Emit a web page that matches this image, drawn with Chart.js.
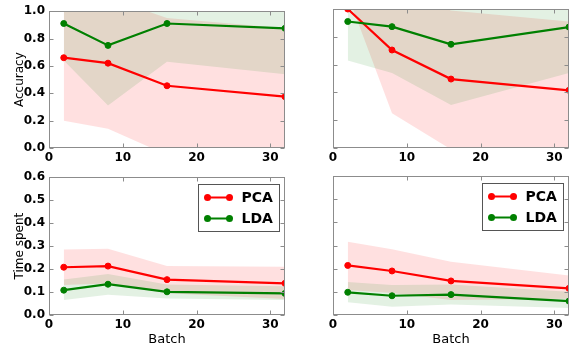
<!DOCTYPE html>
<html>
<head>
<meta charset="utf-8">
<script src="https://cdn.jsdelivr.net/npm/chart.js@4.4.1/dist/chart.umd.min.js"></script>
<style>
  body { margin: 0; background: #fff; }
  #wrap { position: relative; width: 574px; height: 349px; }
  canvas { position: absolute; }
</style>
</head>
<body>
<div id="wrap">
  <canvas id="accLeft" width="290" height="166" style="left:0;top:0;width:290px;height:166px"></canvas>
  <canvas id="accRight" width="284" height="166" style="left:290px;top:0;width:284px;height:166px"></canvas>
  <canvas id="timeLeft" width="290" height="183" style="left:0;top:166px;width:290px;height:183px"></canvas>
  <canvas id="timeRight" width="284" height="183" style="left:290px;top:166px;width:284px;height:183px"></canvas>
</div>
<script>
const batches = [2, 8, 16, 32];
const xTicks = [0, 10, 20, 30];
const seriesNames = ['PCA', 'LDA'];

// accuracy, left panel
const accPcaL = [0.66, 0.62, 0.455, 0.375];
const accPcaLLow = [0.20, 0.14, -0.05, -0.12];
const accPcaLHigh = [1.12, 1.10, 0.95, 0.875];
const accLdaL = [0.91, 0.75, 0.91, 0.875];
const accLdaLLow = [0.64, 0.31, 0.63, 0.54];
const accLdaLHigh = [1.18, 1.19, 1.19, 1.21];

// accuracy, right panel
const accPcaR = [1.0, 0.705, 0.496, 0.415];
const accPcaRLow = [1.10, 0.25, -0.01, -0.08];
const accPcaRHigh = [1.12, 1.16, 0.99, 0.91];
const accLdaR = [0.91, 0.873, 0.746, 0.87];
const accLdaRLow = [0.63, 0.54, 0.31, 0.54];
const accLdaRHigh = [1.19, 1.20, 1.18, 1.20];

// time spent, left panel
const timePcaL = [0.208, 0.213, 0.154, 0.138];
const timePcaLLow = [0.131, 0.137, 0.095, 0.07];
const timePcaLHigh = [0.285, 0.288, 0.213, 0.21];
const timeLdaL = [0.108, 0.134, 0.101, 0.094];
const timeLdaLLow = [0.065, 0.088, 0.072, 0.065];
const timeLdaLHigh = [0.155, 0.178, 0.133, 0.125];

// time spent, right panel
const timePcaR = [0.214, 0.19, 0.147, 0.115];
const timePcaRLow = [0.108, 0.095, 0.065, 0.07];
const timePcaRHigh = [0.316, 0.284, 0.23, 0.17];
const timeLdaR = [0.098, 0.083, 0.088, 0.06];
const timeLdaRLow = [0.055, 0.036, 0.045, 0.03];
const timeLdaRHigh = [0.142, 0.13, 0.132, 0.10];

Chart.defaults.font.family = "'DejaVu Sans', sans-serif";
Chart.defaults.color = '#000';

const RED = '#ff0000';
const GREEN = '#008000';
const FRAME = '#8c8c8c';

const pts = (ys) => batches.map((b, i) => ({ x: b, y: ys[i] }));

// frame + inward tick marks on all four sides
const frameTicks = {
  id: 'frameTicks',
  afterDatasetsDraw(chart) {
    const { ctx, chartArea: a, scales } = chart;
    const l = Math.round(a.left) + 0.5, r = Math.round(a.right) - 0.5;
    const t = Math.round(a.top) + 0.5, b = Math.round(a.bottom) - 0.5;
    ctx.save();
    ctx.strokeStyle = FRAME;
    ctx.lineWidth = 1;
    ctx.beginPath();
    xTicks.forEach(v => {
      const px = Math.round(scales.x.getPixelForValue(v)) + 0.5;
      ctx.moveTo(px, b); ctx.lineTo(px, b - 4);
      ctx.moveTo(px, t); ctx.lineTo(px, t + 4);
    });
    scales.y.ticks.forEach(tk => {
      const py = Math.round(scales.y.getPixelForValue(tk.value)) + 0.5;
      ctx.moveTo(l, py); ctx.lineTo(l + 4, py);
      ctx.moveTo(r, py); ctx.lineTo(r - 4, py);
    });
    ctx.stroke();
    ctx.strokeRect(l, t, r - l, b - t);
    ctx.restore();
  }
};

// matplotlib style legend box
const legendBox = {
  id: 'legendBox',
  afterDraw(chart, args, opts) {
    if (!opts.show) return;
    const { ctx, chartArea: a } = chart;
    const w = 81, h = 47;
    const x0 = Math.round(a.right - 6 - w) + 0.5, y0 = Math.round(a.top + 7) + 0.5;
    ctx.save();
    ctx.fillStyle = '#fff';
    ctx.fillRect(x0, y0, w, h);
    ctx.strokeStyle = '#555';
    ctx.lineWidth = 1;
    ctx.strokeRect(x0, y0, w, h);
    [RED, GREEN].forEach((c, i) => {
      const y = y0 + 13 + i * 21;
      ctx.strokeStyle = c;
      ctx.fillStyle = c;
      ctx.lineWidth = 2;
      ctx.beginPath();
      ctx.moveTo(x0 + 9, y); ctx.lineTo(x0 + 31, y);
      ctx.stroke();
      [x0 + 9, x0 + 31].forEach(px => {
        ctx.beginPath();
        ctx.arc(px, y, 3.5, 0, Math.PI * 2);
        ctx.fill();
      });
      ctx.fillStyle = '#000';
      ctx.font = "bold 14px 'DejaVu Sans'";
      ctx.textBaseline = 'middle';
      ctx.fillText(seriesNames[i], x0 + 43, y + 1);
    });
    ctx.restore();
  }
};

function bandSets(low, high, fillColor, order) {
  return [
    { data: pts(high), borderColor: 'transparent', borderWidth: 0, pointRadius: 0, fill: false, order },
    { data: pts(low), borderColor: 'transparent', borderWidth: 0, pointRadius: 0, fill: '-1', backgroundColor: fillColor, order }
  ];
}

function meanSet(ys, color, order) {
  return {
    data: pts(ys), borderColor: color, backgroundColor: color, borderWidth: 2.2,
    pointRadius: 3, pointBorderWidth: 1, pointBackgroundColor: color, pointBorderColor: color,
    fill: false, tension: 0, order
  };
}

function makePanel(id, cfg) {
  new Chart(document.getElementById(id), {
    type: 'line',
    data: {
      datasets: [
        ...bandSets(cfg.pcaLow, cfg.pcaHigh, 'rgba(255, 0, 0, 0.12)', 6),
        ...bandSets(cfg.ldaLow, cfg.ldaHigh, 'rgba(0, 128, 0, 0.11)', 5),
        meanSet(cfg.pca, RED, 2),
        meanSet(cfg.lda, GREEN, 1)
      ]
    },
    options: {
      responsive: false,
      animation: false,
      events: [],
      layout: { padding: { left: 0, top: cfg.top, right: cfg.right, bottom: 0 } },
      scales: {
        x: {
          type: 'linear', min: 0, max: 32,
          grid: { display: false, drawTicks: false },
          border: { display: false },
          ticks: {
            stepSize: 10, includeBounds: false, padding: 3, maxRotation: 0,
            font: { size: 12, weight: 'bold' }, color: '#000'
          },
          title: {
            display: !!cfg.xTitle, text: cfg.xTitle || '',
            font: { size: 13 }, color: '#000', padding: { top: 0, bottom: 2 }
          },
          afterFit: (s) => { s.height = cfg.xHeight; }
        },
        y: {
          min: 0, max: cfg.yMax,
          grid: { display: false, drawTicks: false },
          border: { display: false },
          ticks: {
            display: cfg.yLabels, stepSize: cfg.yStep, includeBounds: false, padding: 4,
            font: { size: 12, weight: 'bold' }, color: '#000',
            callback: (v) => v.toFixed(1)
          },
          title: {
            display: !!cfg.yTitle, text: cfg.yTitle || '',
            font: { size: 12 }, color: '#000', padding: { top: 13, bottom: 0 }
          },
          afterFit: (s) => { s.width = cfg.yWidth; }
        }
      },
      plugins: {
        legend: { display: false },
        tooltip: { enabled: false },
        legendBox: { show: !!cfg.legend }
      }
    },
    plugins: [frameTicks, legendBox]
  });
}

makePanel('accLeft', {
  pca: accPcaL, pcaLow: accPcaLLow, pcaHigh: accPcaLHigh,
  lda: accLdaL, ldaLow: accLdaLLow, ldaHigh: accLdaLHigh,
  yMax: 1.0, yStep: 0.2, yLabels: true, yTitle: 'Accuracy',
  top: 9, right: 5, yWidth: 49, xHeight: 18
});
makePanel('accRight', {
  pca: accPcaR, pcaLow: accPcaRLow, pcaHigh: accPcaRHigh,
  lda: accLdaR, ldaLow: accLdaRLow, ldaHigh: accLdaRHigh,
  yMax: 1.0, yStep: 0.2, yLabels: false,
  top: 9, right: 4, yWidth: 43, xHeight: 18
});
makePanel('timeLeft', {
  pca: timePcaL, pcaLow: timePcaLLow, pcaHigh: timePcaLHigh,
  lda: timeLdaL, ldaLow: timeLdaLLow, ldaHigh: timeLdaLHigh,
  yMax: 0.6, yStep: 0.1, yLabels: true, yTitle: 'Time spent', xTitle: 'Batch', legend: true,
  top: 10, right: 5, yWidth: 49, xHeight: 34
});
makePanel('timeRight', {
  pca: timePcaR, pcaLow: timePcaRLow, pcaHigh: timePcaRHigh,
  lda: timeLdaR, ldaLow: timeLdaRLow, ldaHigh: timeLdaRHigh,
  yMax: 0.6, yStep: 0.1, yLabels: false, xTitle: 'Batch', legend: true,
  top: 10, right: 4, yWidth: 43, xHeight: 34
});
</script>
</body>
</html>
